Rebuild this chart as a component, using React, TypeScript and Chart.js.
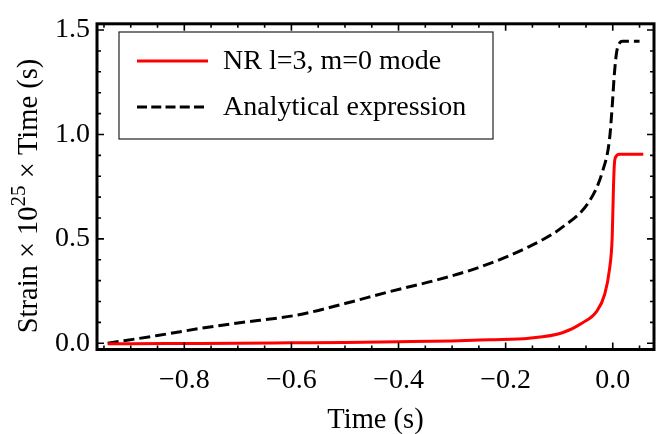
import { useEffect, useRef } from "react";
import { Chart, registerables } from "chart.js";

Chart.register(...registerables);

// ---- data ----
const nrTime = [-0.943, -0.9, -0.8, -0.7, -0.6, -0.5, -0.4, -0.3, -0.23, -0.156, -0.094, -0.057, -0.03, -0.0155, -0.006, -0.001, 0.0013, 0.003, 0.006, 0.0125, 0.057];
const nrStrain = [-0.003, -0.002, -0.001, 0.0, 0.002, 0.004, 0.007, 0.011, 0.017, 0.024, 0.05, 0.097, 0.153, 0.231, 0.356, 0.512, 0.746, 0.858, 0.894, 0.905, 0.905];

const anTime = [-0.943, -0.85, -0.775, -0.7, -0.589, -0.5, -0.417, -0.33, -0.249, -0.156, -0.094, -0.043, -0.019, -0.006, -0.001, 0.003, 0.007, 0.011, 0.018, 0.05];
const anStrain = [0.0, 0.037, 0.069, 0.097, 0.135, 0.19, 0.247, 0.302, 0.364, 0.463, 0.556, 0.683, 0.824, 0.978, 1.136, 1.29, 1.39, 1.43, 1.447, 1.447];

const seriesLabels = ["NR l=3, m=0 mode", "Analytical expression"];

const xTicks = [-0.8, -0.6, -0.4, -0.2, 0.0];
const xTickLabels = ["\u22120.8", "\u22120.6", "\u22120.4", "\u22120.2", "0.0"];
const yTicks = [0.0, 0.5, 1.0, 1.5];
const yTickLabels = ["0.0", "0.5", "1.0", "1.5"];
const xMinorStep = 0.05;
const yMinorStep = 0.1;

const xTitle = "Time (s)";
const yTitleParts = ["Strain \u00d7 10", "25", " \u00d7 Time (s)"];

const FONT = "'Liberation Serif', 'Times New Roman', Times, serif";

const framePlugin = {
  id: "mmaFrame",
  afterDatasetsDraw(chart: any) {
    const { ctx, chartArea } = chart;
    const { left, right, top, bottom } = chartArea;
    const xs = chart.scales.x;
    const ys = chart.scales.y;
    ctx.save();
    ctx.strokeStyle = "#000";
    const major = 7;
    const minor = 4;
    ctx.lineWidth = 1.6;
    const xmin = xs.min, xmax = xs.max, ymin = ys.min, ymax = ys.max;
    const drawX = (v: number, len: number) => {
      const p = xs.getPixelForValue(v);
      ctx.beginPath();
      ctx.moveTo(p, bottom);
      ctx.lineTo(p, bottom - len);
      ctx.moveTo(p, top);
      ctx.lineTo(p, top + len);
      ctx.stroke();
    };
    const drawY = (v: number, len: number) => {
      const p = ys.getPixelForValue(v);
      ctx.beginPath();
      ctx.moveTo(left, p);
      ctx.lineTo(left + len, p);
      ctx.moveTo(right, p);
      ctx.lineTo(right - len, p);
      ctx.stroke();
    };
    const isMajor = (arr: number[], v: number) => arr.some((t) => Math.abs(t - v) < 1e-6);
    for (let k = Math.ceil(xmin / xMinorStep); k * xMinorStep <= xmax + 1e-9; k++) {
      const v = k * xMinorStep;
      drawX(v, isMajor(xTicks, v) ? major : minor);
    }
    for (let k = Math.ceil(ymin / yMinorStep); k * yMinorStep <= ymax + 1e-9; k++) {
      const v = k * yMinorStep;
      drawY(v, isMajor(yTicks, v) ? major : minor);
    }
    ctx.lineWidth = 3;
    ctx.strokeRect(left, top, right - left, bottom - top);
    ctx.restore();
  },
  afterDraw(chart: any) {
    const { ctx, chartArea } = chart;
    ctx.save();
    ctx.fillStyle = "#000";
    // x title
    ctx.font = `28.5px ${FONT}`;
    ctx.textAlign = "center";
    ctx.textBaseline = "alphabetic";
    ctx.fillText(xTitle, (chartArea.left + chartArea.right) / 2, 428);
    // y title with superscript
    const base = `28.5px ${FONT}`;
    const sup = `21px ${FONT}`;
    ctx.font = base;
    const w0 = ctx.measureText(yTitleParts[0]).width;
    const w2 = ctx.measureText(yTitleParts[2]).width;
    ctx.font = sup;
    const w1 = ctx.measureText(yTitleParts[1]).width;
    const total = w0 + w1 + w2;
    ctx.translate(37, 196);
    ctx.rotate(-Math.PI / 2);
    ctx.textAlign = "left";
    let x = -total / 2;
    ctx.font = base;
    ctx.fillText(yTitleParts[0], x, 0);
    x += w0;
    ctx.font = sup;
    ctx.fillText(yTitleParts[1], x, -12);
    x += w1;
    ctx.font = base;
    ctx.fillText(yTitleParts[2], x, 0);
    ctx.restore();

    // legend
    ctx.save();
    const bx = 119, by = 32, bw = 374, bh = 107;
    ctx.fillStyle = "#fff";
    ctx.fillRect(bx, by, bw, bh);
    ctx.strokeStyle = "#222";
    ctx.lineWidth = 1.2;
    ctx.strokeRect(bx, by, bw, bh);
    const rows = [61, 107];
    chart.data.datasets.forEach((ds: any, i: number) => {
      const y = rows[i];
      ctx.beginPath();
      ctx.strokeStyle = ds.borderColor;
      ctx.lineWidth = 3;
      ctx.setLineDash(ds.borderDash && ds.borderDash.length ? [10, 4.25] : []);
      ctx.moveTo(137, y);
      ctx.lineTo(i === 0 ? 208 : 204, y);
      ctx.stroke();
      ctx.setLineDash([]);
      ctx.fillStyle = "#000";
      ctx.font = `28px ${FONT}`;
      ctx.textAlign = "left";
      ctx.textBaseline = "middle";
      ctx.fillText(ds.label, 223, y + 1);
    });
    ctx.restore();
  },
};

export default function App() {
  const ref = useRef<HTMLCanvasElement | null>(null);
  useEffect(() => {
    document.body.style.margin = "0";
    const canvas = ref.current;
    if (!canvas) return;
    const chart = new Chart(canvas, {
      type: "line",
      data: {
        datasets: [
          {
            label: seriesLabels[0],
            data: nrTime.map((t, i) => ({ x: t, y: nrStrain[i] })),
            borderColor: "rgb(255,0,0)",
            borderWidth: 3,
            pointRadius: 0,
            fill: false,
            cubicInterpolationMode: "monotone",
          },
          {
            label: seriesLabels[1],
            data: anTime.map((t, i) => ({ x: t, y: anStrain[i] })),
            borderColor: "#000",
            borderWidth: 3,
            borderDash: [11, 5],
            pointRadius: 0,
            fill: false,
            cubicInterpolationMode: "monotone",
          },
        ],
      },
      options: {
        animation: false,
        responsive: false,
        maintainAspectRatio: false,
        devicePixelRatio: window.devicePixelRatio || 1,
        layout: { padding: { top: 17, right: 10, left: 0, bottom: 0 } },
        plugins: { legend: { display: false }, tooltip: { enabled: false }, title: { display: false } },
        scales: {
          x: {
            type: "linear",
            min: -0.963,
            max: 0.077,
            grid: { display: false, drawTicks: false },
            border: { display: false },
            afterBuildTicks: (scale: any) => {
              scale.ticks = xTicks.map((v) => ({ value: v }));
            },
            afterFit: (scale: any) => {
              scale.height = 84.5;
            },
            ticks: {
              padding: 14,
              maxRotation: 0,
              autoSkip: false,
              color: "#000",
              font: { family: FONT, size: 28 },
              callback: (_v: any, i: number) => xTickLabels[i],
            },
          },
          y: {
            type: "linear",
            min: -0.03,
            max: 1.53,
            grid: { display: false, drawTicks: false },
            border: { display: false },
            afterBuildTicks: (scale: any) => {
              scale.ticks = yTicks.map((v) => ({ value: v }));
            },
            afterFit: (scale: any) => {
              scale.width = 97;
            },
            ticks: {
              padding: 7,
              autoSkip: false,
              color: "#000",
              font: { family: FONT, size: 28 },
              callback: (_v: any, i: number) => yTickLabels[i],
            },
          },
        },
      } as any,
      plugins: [framePlugin],
    });
    return () => chart.destroy();
  }, []);
  return (
    <div style={{ position: "fixed", left: 0, top: 0, width: 664, height: 434, background: "#fff" }}>
      <canvas ref={ref} width={664} height={434} style={{ width: 664, height: 434, display: "block" }} />
    </div>
  );
}
